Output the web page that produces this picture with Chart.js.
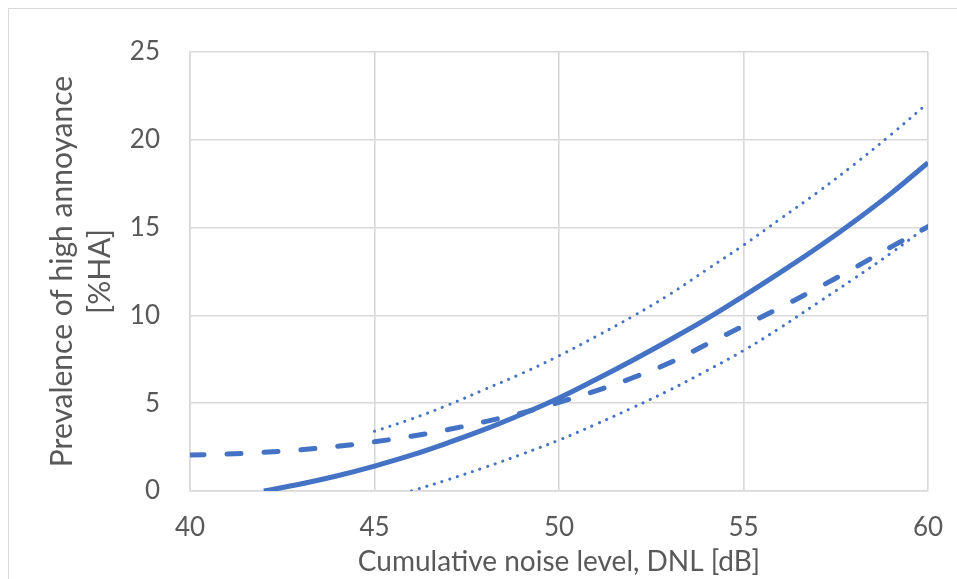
<!DOCTYPE html>
<html>
<head>
<meta charset="utf-8">
<script src="https://cdn.jsdelivr.net/npm/chart.js@4/dist/chart.umd.min.js"></script>
<style>
  html, body { margin: 0; padding: 0; background: #fff; }
  #wrap { position: relative; width: 957px; height: 579px; }
</style>
</head>
<body>
<div id="wrap"><canvas id="haChart" width="957" height="579"></canvas></div>
<script>
// ===== DATA =====
const dnlMain  = [42, 43, 44, 45, 46, 47, 48, 49, 50, 51, 52, 53, 54, 55, 56, 57, 58, 59, 60];
const haMain   = [0, 0.4, 0.87, 1.42, 2.04, 2.75, 3.52, 4.38, 5.3, 6.35, 7.45, 8.6, 9.8, 11.1, 12.45, 13.85, 15.35, 16.95, 18.7];

const dnlUpper = [45, 46, 47, 48, 49, 50, 51, 52, 53, 54, 55, 56, 57, 58, 59, 60];
const haUpper  = [3.4, 4.1, 4.9, 5.8, 6.7, 7.7, 8.8, 9.95, 11.2, 12.6, 14.0, 15.5, 17.0, 18.6, 20.3, 22.1];

const dnlLower = [46, 47, 48, 49, 50, 51, 52, 53, 54, 55, 56, 57, 58, 59, 60];
const haLower  = [0, 0.65, 1.35, 2.1, 2.9, 3.8, 4.75, 5.75, 6.85, 8.0, 9.3, 10.7, 12.1, 13.55, 15.1];

const dnlDash  = [40, 41, 42, 43, 44, 45, 46, 47, 48, 49, 50, 51, 52, 53, 54, 55, 56, 57, 58, 59, 60];
const haDash   = [2.05, 2.1, 2.2, 2.35, 2.55, 2.8, 3.12, 3.5, 3.95, 4.45, 5.05, 5.7, 6.45, 7.3, 8.35, 9.4, 10.45, 11.55, 12.7, 13.9, 15.05];

const xTicks = [40, 45, 50, 55, 60];
const yTicks = [0, 5, 10, 15, 20, 25];

const BLUE = '#4472C4';
const GRID = '#d9d9d9';
const TXT = '#595959';

const pts = (xs, ys) => xs.map((x, i) => ({ x: x, y: ys[i] }));

// thin frame round the whole chart, like the office chart border
const framePlugin = {
    id: 'frame',
    beforeDraw(chart) {
        const c = chart.ctx;
        c.save();
        c.strokeStyle = GRID;
        c.lineWidth = 1;
        c.strokeRect(8.5, 8.5, 960, 600);
        c.restore();
    }
};

const base = {
    borderColor: BLUE,
    pointRadius: 0,
    fill: false,
    tension: 0.4,
    borderCapStyle: 'round',
    borderJoinStyle: 'round'
};

new Chart(document.getElementById('haChart'), {
    type: 'line',
    data: {
        datasets: [
            Object.assign({}, base, { label: 'Upper', data: pts(dnlUpper, haUpper), borderWidth: 3, borderDash: [0.1, 7.9] }),
            Object.assign({}, base, { label: 'Lower', data: pts(dnlLower, haLower), borderWidth: 3, borderDash: [0.1, 7.9] }),
            Object.assign({}, base, { label: 'Dashed', data: pts(dnlDash, haDash), borderWidth: 5, borderDash: [14, 23] }),
            Object.assign({}, base, { label: 'Main', data: pts(dnlMain, haMain), borderWidth: 5, borderCapStyle: 'butt' })
        ]
    },
    options: {
        responsive: false,
        animation: false,
        layout: { padding: { left: 43, right: 29, top: 52, bottom: 0 } },
        plugins: { legend: { display: false }, tooltip: { enabled: false } },
        scales: {
            x: {
                type: 'linear',
                min: 40, max: 60,
                afterBuildTicks: s => { s.ticks = xTicks.map(v => ({ value: v })); },
                afterFit: s => { s.height = 88; s.paddingLeft = 0; s.paddingRight = 0; },
                grid: { color: GRID, lineWidth: 1.6, drawTicks: false },
                border: { color: GRID, width: 1.6 },
                ticks: { color: TXT, padding: 21, font: { family: 'Lato', size: 26 } },
                title: {
                    display: true,
                    text: 'Cumulative noise level, DNL [dB]',
                    color: TXT,
                    padding: { top: 0, bottom: 0 },
                    font: { family: 'Lato', size: 28 }
                }
            },
            y: {
                min: 0, max: 25,
                afterBuildTicks: s => { s.ticks = yTicks.map(v => ({ value: v })); },
                afterFit: s => { s.width = 147; s.paddingTop = 0; s.paddingBottom = 0; },
                grid: { color: GRID, lineWidth: 1.6, drawTicks: false },
                border: { color: GRID, width: 1.6 },
                ticks: { color: TXT, padding: 30, font: { family: 'Lato', size: 26 } },
                title: {
                    display: true,
                    text: ['Prevalence of high annoyance', '[%HA]'],
                    color: TXT,
                    padding: { top: 0, bottom: 0 },
                    font: { family: 'Lato', size: 30, lineHeight: 1.27 }
                }
            }
        }
    },
    plugins: [framePlugin]
});
</script>
</body>
</html>
